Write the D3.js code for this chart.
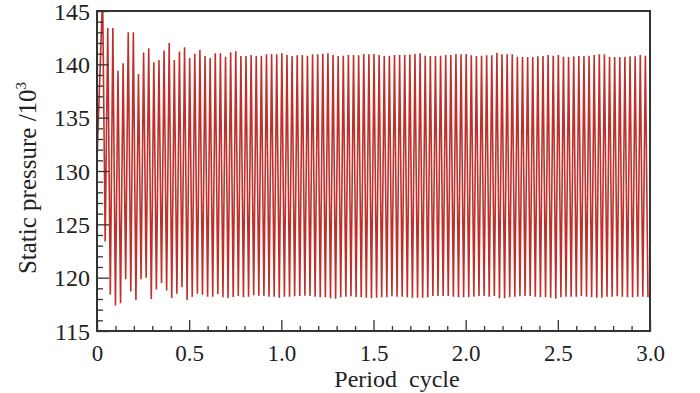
<!DOCTYPE html>
<html>
<head>
<meta charset="utf-8">
<script src="https://cdn.jsdelivr.net/npm/d3@7"></script>
<style>
  body { margin: 0; background: #fff; }
  svg { display: block; }
  text { font-family: "Liberation Serif", "Times New Roman", serif; fill: #222; }
</style>
</head>
<body>
<div id="chart"></div>
<script>
// oscillation extremes, one per cycle of the wave
const startValue = 131
const peakValues = [
  146.5, 143.4, 143.4, 139.4, 140.1, 143.0, 143.0, 139.1, 141.1, 141.5,
  140.2, 140.4, 141.3, 142.0, 140.4, 141.2, 141.6, 140.6, 141.0, 141.35,
  140.78, 140.6, 141.03, 141.03, 140.72, 141.13, 141.22, 140.78, 140.78, 140.88,
  140.78, 140.81, 140.94, 140.97, 140.94, 141.03, 140.88, 140.78, 140.84, 140.88,
  140.81, 140.94, 140.94, 141.0, 141.03, 140.88, 140.78, 140.81, 140.88, 140.88,
  140.84, 140.97, 140.94, 140.97, 140.88, 140.78, 140.81, 140.88, 140.88, 140.88,
  140.91, 140.97, 141.03, 140.81, 140.78, 140.78, 140.81, 140.88, 140.88, 140.97,
  140.94, 140.97, 140.84, 140.78, 140.81, 140.84, 140.84, 141.09, 140.94, 140.94,
  140.94, 140.72, 140.69, 140.69, 140.69, 140.75, 140.78, 140.88, 140.81, 140.88,
  140.72, 140.69, 140.75, 140.78, 140.78, 140.81, 140.88, 140.94, 140.94, 140.72,
  140.69, 140.69, 140.72, 140.75, 140.75, 140.88, 140.81
]
const troughValues = [
  123.4, 118.4, 117.4, 117.6, 119.85, 118.7, 117.9, 119.85, 120.0, 118.0,
  118.9, 119.5, 118.8, 118.1, 118.5, 119.1, 117.9, 118.2, 118.5, 118.4,
  118.22, 118.22, 118.47, 118.16, 118.09, 118.19, 118.28, 118.16, 118.22, 118.34,
  118.31, 118.28, 118.22, 118.22, 118.12, 118.22, 118.22, 118.25, 118.28, 118.31,
  118.28, 118.22, 118.16, 118.16, 118.06, 118.03, 118.16, 118.22, 118.25, 118.19,
  118.16, 118.12, 118.06, 118.12, 118.16, 118.16, 118.25, 118.22, 118.22, 118.16,
  118.12, 118.12, 118.12, 118.17, 118.28, 118.28, 118.28, 118.28, 118.22, 118.16,
  118.16, 118.16, 118.22, 118.28, 118.28, 118.22, 118.28, 118.06, 118.06, 118.16,
  118.22, 118.25, 118.28, 118.28, 118.22, 118.16, 118.16, 118.12, 118.03, 118.16,
  118.22, 118.22, 118.22, 118.28, 118.22, 118.16, 118.12, 118.12, 118.22, 118.22,
  118.25, 118.22, 118.16, 118.16, 118.22, 118.22, 118.16
]
const wavesPerCycle = 36   // oscillations per period cycle
const peakPhase = 1.1      // first peak position, in waves
const troughPhase = 1.6

const xMajorTicks = [0, 0.5, 1.0, 1.5, 2.0, 2.5, 3.0]
const xMinorTicks = d3.range(0, 30).map(i => i / 10).filter(v => !xMajorTicks.includes(v))
const yMajorTicks = [115, 120, 125, 130, 135, 140, 145]
const yMinorTicks = d3.range(115, 146).filter(v => !yMajorTicks.includes(v))

const width = 700, height = 393
const margin = {top: 11, right: 50, bottom: 62, left: 97}
const innerW = width - margin.left - margin.right
const innerH = height - margin.top - margin.bottom

const xScale = d3.scaleLinear().domain([0, 3]).range([0, innerW])
const yScale = d3.scaleLinear().domain([115, 145]).range([innerH, 0])

const svg = d3.select("#chart").append("svg")
    .attr("width", width)
    .attr("height", height)

const g = svg.append("g")
    .attr("transform", `translate(${margin.left}, ${margin.top})`)

g.append("clipPath").attr("id", "clip")
  .append("rect").attr("width", innerW).attr("height", innerH)

// build the wave: start, then peak / trough pairs
const series = [[0, startValue]]
peakValues.forEach((p, i) => {
    series.push([(i + peakPhase) / wavesPerCycle, p])
    series.push([(i + troughPhase) / wavesPerCycle, troughValues[i]])
})

g.append("path")
    .datum(series)
    .attr("clip-path", "url(#clip)")
    .attr("fill", "none")
    .attr("stroke", "#c0302a")
    .attr("stroke-width", 1.6)
    .attr("d", d3.line()
        .x(d => xScale(d[0]))
        .y(d => yScale(d[1])))

const axisColor = "#333"

// minor ticks (inward)
g.append("g")
    .call(d3.axisLeft(yScale).tickValues(yMinorTicks).tickSize(-6).tickFormat(""))
    .call(a => a.select(".domain").remove())
g.append("g")
    .attr("transform", `translate(0, ${innerH})`)
    .call(d3.axisBottom(xScale).tickValues(xMinorTicks).tickSize(-5).tickFormat(""))
    .call(a => a.select(".domain").remove())

const yAxis = g.append("g")
    .call(d3.axisLeft(yScale).tickValues(yMajorTicks).tickSize(-12).tickPadding(7).tickFormat(d3.format("d")))
    .call(a => a.select(".domain").remove())
yAxis.selectAll("text").attr("font-size", 24).attr("dy", "0.34em")

const xAxis = g.append("g")
    .attr("transform", `translate(0, ${innerH})`)
    .call(d3.axisBottom(xScale).tickValues(xMajorTicks).tickSize(-11)
        .tickFormat(d => d === 0 ? "0" : d3.format(".1f")(d)))
    .call(a => a.select(".domain").remove())
xAxis.selectAll("text").attr("font-size", 23).attr("y", 30).attr("dy", null)

g.selectAll(".tick line").attr("stroke", axisColor).attr("stroke-width", 1.3)
g.selectAll(".tick text").attr("fill", "#222")

// frame
g.append("rect")
    .attr("width", innerW)
    .attr("height", innerH)
    .attr("fill", "none")
    .attr("stroke", axisColor)
    .attr("stroke-width", 2)

// axis titles
svg.append("text")
    .attr("x", 397)
    .attr("y", 387)
    .attr("text-anchor", "middle")
    .attr("font-size", 24)
    .attr("xml:space", "preserve")
    .text("Period  cycle")

const yTitle = svg.append("text")
    .attr("transform", "translate(36, 178) rotate(-90)")
    .attr("text-anchor", "middle")
    .attr("font-size", 25)
yTitle.append("tspan").text("Static pressure /10")
yTitle.append("tspan").attr("font-size", 15).attr("dy", -10).text("3")
</script>
</body>
</html>
